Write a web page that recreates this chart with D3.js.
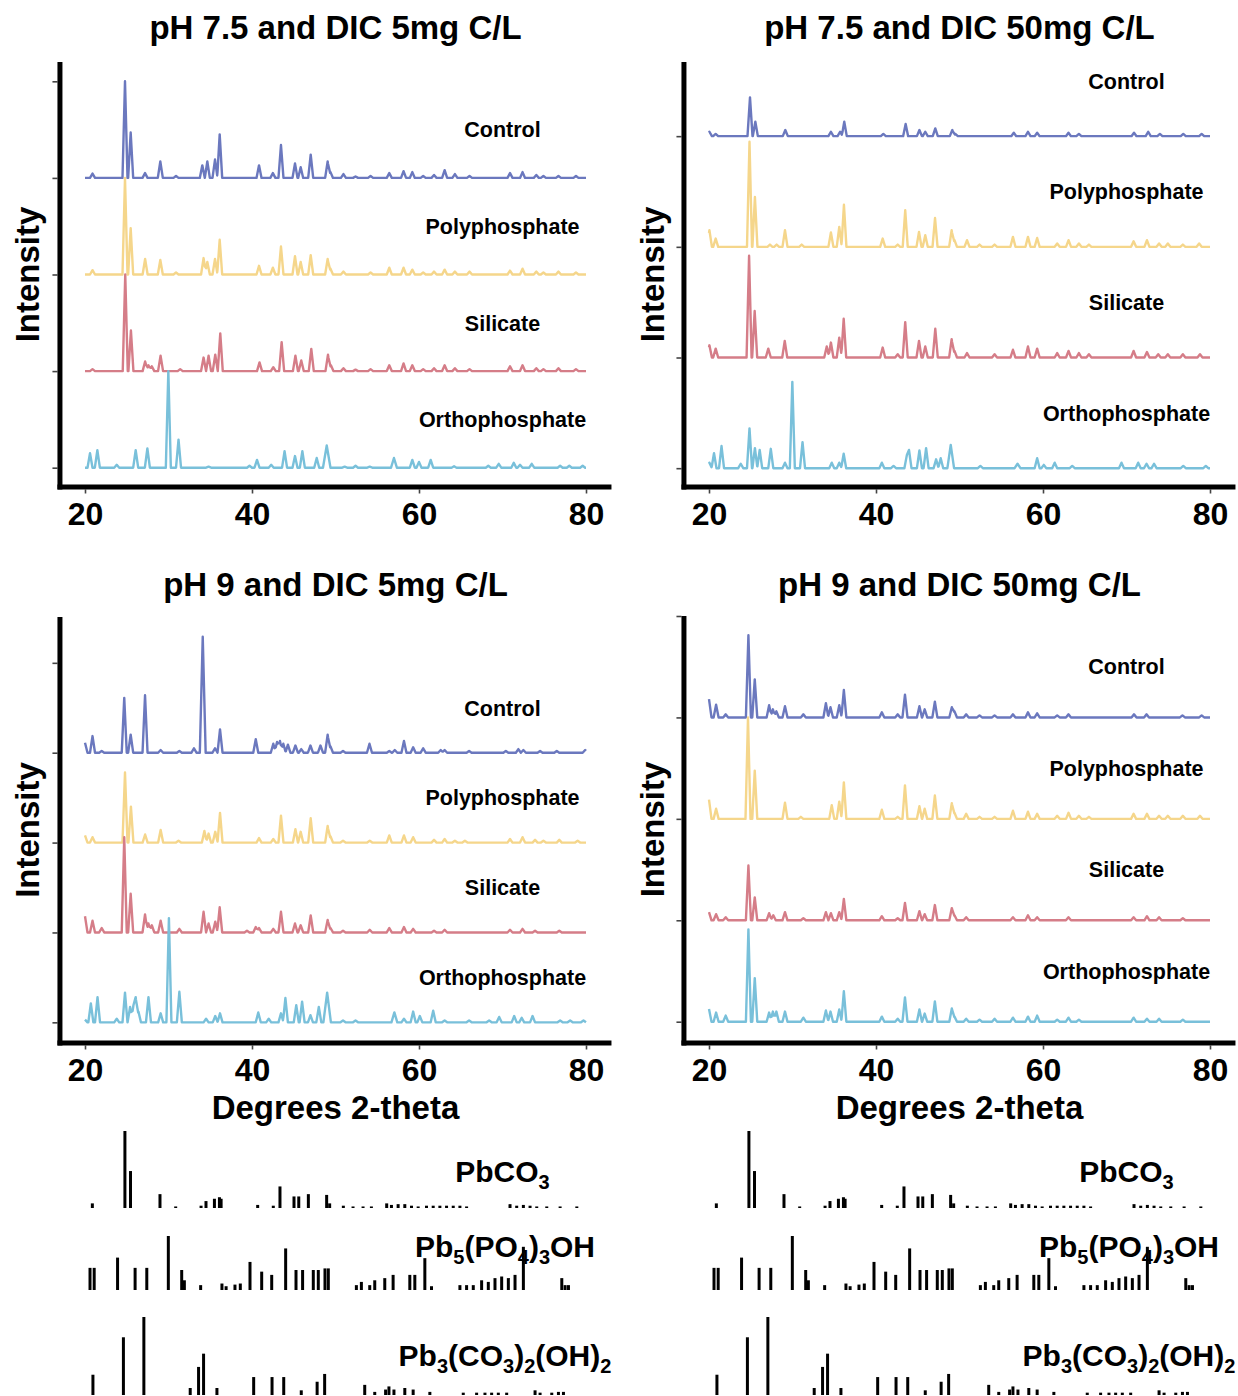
<!DOCTYPE html>
<html>
<head>
<meta charset="utf-8">
<script src="https://cdn.jsdelivr.net/npm/d3@7"></script>
<style>
  body { margin: 0; background: #fff; }
  svg { display: block; }
  text { font-family: "Liberation Sans", Arial, Helvetica, sans-serif; fill: #000; }
</style>
</head>
<body>
<svg id="chart" width="1238" height="1396"></svg>
<script>
// ---------------- data ----------------
const xTicks = [20, 40, 60, 80];
const sampleNames = ["Control", "Polyphosphate", "Silicate", "Orthophosphate"];
const sampleColors = ["#6b78be", "#f5d68b", "#d57d88", "#79c0da"];
const panelTitles = [
  "pH 7.5 and DIC 5mg C/L",
  "pH 7.5 and DIC 50mg C/L",
  "pH 9 and DIC 5mg C/L",
  "pH 9 and DIC 50mg C/L"
];
const xAxisTitle = "Degrees 2-theta";
const yAxisTitle = "Intensity";

// Diffraction peaks per sample: [2-theta, relative intensity, optional half-width in degrees]
const control75dic5 = [[20.9,.045],[24.79,1.0],[25.47,.47],[27.19,.05],[29.02,.17],[30.9,.02],[34.05,.13],[34.65,.17],[35.57,.19],[36.13,.45],[40.84,.13],[42.5,.05],[43.47,.34],[45.15,.15],[45.83,.11],[47.03,.24],[49.06,.17],[49.4,.06],[50.95,.04],[52.4,.015],[54.2,.02],[56.44,.05],[58.15,.07],[59.2,.06],[60.5,.02],[61.8,.03],[63.07,.08],[64.3,.04],[66.05,.02],[70.9,.05],[72.4,.06],[74.05,.03],[74.9,.02],[76.7,.02],[78.8,.02]];
const poly75dic5 = [[20.9,.045],[24.79,1.0],[25.47,.48],[27.2,.16],[29.02,.15],[30.9,.02],[34.2,.17],[34.65,.13],[35.57,.16],[36.13,.36],[40.84,.09],[42.5,.07],[43.47,.29],[45.15,.19],[45.83,.13],[47.03,.20],[49.06,.16],[49.4,.06],[50.95,.03],[54.2,.02],[56.44,.07],[58.15,.07],[59.2,.05],[60.5,.02],[61.8,.03],[63.07,.05],[64.3,.03],[66.05,.03],[70.9,.04],[72.4,.06],[74.05,.03],[74.9,.02],[76.7,.03],[78.8,.02]];
const silicate75dic5 = [[20.9,.02],[24.82,1.0],[25.5,.42],[27.2,.10],[27.6,.06],[28.0,.05],[29.05,.16],[31.4,.02],[34.2,.14],[34.8,.16],[35.6,.17],[36.2,.39],[40.9,.09],[42.55,.04],[43.55,.30],[45.2,.16],[45.9,.11],[47.1,.23],[49.1,.17],[49.45,.06],[50.95,.03],[52.4,.015],[54.2,.02],[56.44,.06],[58.15,.08],[59.2,.06],[60.5,.02],[61.8,.03],[63.07,.06],[64.3,.03],[66.05,.02],[70.9,.05],[72.4,.06],[74.05,.03],[74.9,.02],[76.7,.03],[78.8,.02]];
const ortho75dic5 = [[20.6,.15],[21.48,.18],[23.8,.03],[26.07,.18],[27.47,.20],[29.98,1.0],[31.2,.29],[34.8,.01],[39.7,.02],[40.6,.08],[42.3,.03],[43.9,.17],[45.15,.12],[46.03,.17],[47.75,.10],[48.95,.23,.45],[51.1,.01],[52.4,.02],[54.1,.01],[57.0,.10,.35],[59.2,.08],[60.0,.06],[61.4,.08],[64.2,.015],[68.3,.02],[69.55,.04],[71.35,.05],[72.1,.03],[73.5,.04],[76.9,.02],[78.0,.02],[79.6,.02]];

const control75dic50 = [[20.05,.04],[20.8,.02],[24.91,.35],[25.55,.13],[29.14,.055],[34.6,.04],[35.7,.04],[36.2,.13],[40.88,.02],[43.55,.11],[45.2,.055],[45.9,.04],[47.1,.07],[49.14,.055],[49.5,.02],[56.5,.03],[58.2,.04],[59.3,.03],[63.05,.03],[64.3,.02],[70.9,.03],[72.6,.04],[74.0,.02],[76.8,.02],[79.0,.02]];
const poly75dic50 = [[20.05,.15],[20.8,.075],[24.85,.95],[25.5,.45],[27.3,.02],[28.1,.02],[29.1,.15],[31.1,.02],[34.6,.13],[35.6,.18],[36.16,.38],[40.8,.075],[42.6,.02],[43.5,.33],[45.15,.135],[45.9,.105],[47.07,.26],[49.06,.15],[49.4,.06],[50.9,.06],[52.4,.02],[54.2,.02],[56.4,.09],[58.2,.09],[59.3,.08],[61.7,.03],[63.06,.06],[64.3,.03],[65.5,.02],[70.85,.05],[72.45,.06],[73.9,.03],[74.95,.03],[76.75,.02],[78.7,.03]];
const silicate75dic50 = [[20.05,.11],[20.8,.08],[24.8,.92],[25.47,.42],[27.1,.08],[29.07,.15],[34.1,.10],[34.6,.135],[35.6,.18],[36.13,.35],[40.8,.09],[42.6,.03],[43.5,.32],[45.15,.15],[45.9,.10],[47.1,.26],[49.06,.165],[49.4,.06],[50.9,.04],[54.2,.03],[56.4,.07],[58.2,.10],[59.3,.08],[61.7,.04],[63.06,.06],[64.3,.04],[65.5,.03],[70.85,.06],[72.45,.05],[73.8,.03],[74.95,.03],[76.75,.03],[78.8,.03]];
const ortho75dic50 = [[20.05,.05],[20.6,.135],[21.5,.2],[23.8,.04],[24.85,.36],[25.5,.18],[26.07,.165],[27.4,.175],[29.1,.05],[29.98,.78],[31.2,.235],[34.7,.05],[35.6,.05],[36.13,.13],[40.7,.05],[42.1,.02],[43.7,.12],[43.95,.165],[45.2,.16],[46.0,.18],[47.2,.08],[47.75,.09],[48.95,.21,.4],[52.5,.02],[56.95,.04,.35],[59.3,.09],[60.1,.03],[61.4,.05],[63.5,.02],[69.4,.05],[71.4,.05],[72.4,.04],[73.3,.04],[76.8,.02],[79.5,.02]];

const control9dic5 = [[20.0,.11],[20.9,.185],[22.0,.02],[24.7,.61],[25.47,.2],[27.19,.64],[29.06,.03],[31.3,.02],[33.05,.05],[34.1,1.29,.35],[35.57,.05],[36.17,.26],[40.45,.15],[42.55,.1],[43.0,.12],[43.35,.13],[43.75,.1],[44.3,.09],[45.2,.08],[45.9,.04],[47.0,.08],[48.2,.08],[49.06,.2],[49.4,.07],[50.9,.02],[54.07,.1],[56.44,.02],[57.1,.03],[58.2,.13],[59.3,.06],[60.5,.05],[62.6,.03],[63.07,.03],[66.0,.02],[70.4,.02],[71.9,.04],[72.5,.03],[74.5,.02],[76.5,.02],[79.9,.03]];
const poly9dic5 = [[20.0,.08],[20.9,.06],[24.79,.78],[25.5,.4],[27.2,.09],[29.06,.14],[31.2,.02],[34.3,.13],[34.8,.1],[35.6,.12],[36.17,.33],[40.84,.05],[42.55,.04],[43.47,.3],[45.2,.15],[45.83,.12],[47.03,.27],[49.06,.185],[49.4,.07],[50.9,.02],[54.1,.02],[56.44,.08],[58.2,.08],[59.3,.06],[61.8,.03],[63.07,.04],[64.3,.02],[65.5,.02],[70.9,.04],[72.4,.06],[73.9,.03],[74.9,.02],[76.8,.03],[79.0,.02]];
const silicate9dic5 = [[20.0,.18],[20.9,.13],[22.0,.05],[24.7,1.06],[25.47,.43],[27.19,.2],[27.6,.1],[28.0,.08],[29.06,.13],[31.3,.04],[34.2,.23],[34.8,.1],[35.6,.12],[36.13,.28],[39.4,.02],[40.45,.06],[40.84,.05],[42.55,.04],[43.47,.23],[45.15,.1],[45.83,.08],[47.03,.19],[49.06,.14],[49.4,.05],[50.9,.02],[54.1,.03],[56.44,.05],[58.2,.06],[59.3,.04],[61.8,.02],[63.07,.03],[70.9,.03],[72.4,.04],[73.9,.02],[76.8,.02]];
const ortho9dic5 = [[20.0,.03],[20.7,.21],[21.5,.28],[23.8,.04],[24.79,.33],[25.4,.17],[25.8,.19],[26.07,.28],[26.4,.12],[27.6,.28],[29.06,.1],[30.05,1.16],[31.3,.34],[34.5,.04],[35.6,.07],[36.17,.1],[40.75,.11],[42.0,.04],[43.47,.1],[44.0,.27],[45.3,.19],[46.0,.23],[47.0,.08],[48.0,.17],[49.0,.33,.45],[50.9,.02],[52.4,.02],[57.05,.11,.35],[58.2,.04],[59.3,.12],[60.1,.07],[61.7,.13],[63.07,.02],[66.0,.02],[68.4,.02],[69.6,.06],[71.4,.07],[72.3,.05],[73.6,.07],[76.9,.02],[78.1,.02],[79.7,.02]];

const control9dic50 = [[20.0,.18],[20.85,.125],[22.0,.03],[24.72,.81],[25.48,.375],[27.2,.12],[27.65,.08],[28.07,.06],[29.1,.11],[31.3,.03],[34.0,.14],[34.55,.1],[35.6,.12],[36.15,.27],[40.7,.05],[42.6,.03],[43.47,.225],[45.2,.11],[45.83,.08],[47.05,.155],[49.08,.1],[49.4,.06],[50.8,.03],[52.4,.02],[54.2,.02],[56.4,.03],[58.2,.05],[59.3,.04],[61.7,.02],[63.05,.03],[70.9,.03],[72.4,.03],[76.7,.02],[79.0,.02]];
const poly9dic50 = [[20.0,.19],[20.85,.1],[24.67,1.0],[25.48,.475],[29.1,.16],[31.0,.02],[34.7,.135],[35.6,.17],[36.15,.36],[40.7,.09],[42.6,.02],[43.47,.33],[45.2,.125],[45.83,.1],[47.05,.23],[49.08,.155],[49.4,.06],[50.8,.05],[52.4,.02],[54.2,.02],[56.4,.08],[58.2,.07],[59.3,.05],[61.7,.03],[63.06,.06],[64.3,.03],[65.5,.02],[70.85,.05],[72.45,.05],[73.9,.03],[74.95,.03],[76.75,.03],[78.8,.03]];
const silicate9dic50 = [[20.0,.08],[20.85,.06],[22.0,.03],[24.72,.54],[25.48,.225],[27.2,.07],[27.7,.05],[29.1,.08],[31.3,.02],[34.0,.08],[34.6,.07],[35.6,.08],[36.15,.21],[40.7,.04],[42.6,.02],[43.47,.17],[45.2,.09],[45.83,.06],[47.05,.15],[49.08,.12],[49.4,.05],[50.8,.03],[56.4,.03],[58.2,.05],[59.3,.03],[63.05,.03],[70.85,.03],[72.45,.04],[73.9,.03],[76.75,.02]];
const ortho9dic50 = [[20.0,.125],[20.85,.09],[22.0,.06],[24.72,.91],[25.48,.43],[27.2,.09],[27.65,.1],[28.07,.1],[29.1,.1],[31.3,.04],[34.0,.11],[34.55,.1],[35.6,.12],[36.15,.3],[40.7,.05],[42.6,.03],[43.47,.24],[45.2,.12],[45.83,.08],[47.05,.2],[49.08,.13],[49.4,.05],[50.8,.03],[52.4,.02],[54.2,.03],[56.4,.04],[58.2,.05],[59.3,.06],[61.7,.02],[63.05,.04],[64.3,.02],[70.85,.04],[72.45,.03],[73.9,.03],[76.75,.02]];

// Reference stick patterns: [2-theta, relative intensity (%)]
const cerussiteSticks = [[20.88,6],[24.78,100],[25.45,48],[28.98,18],[30.86,2],[33.9,3],[34.49,9],[35.5,12],[36.1,14],[36.3,12],[40.68,4],[42.55,3],[43.35,28],[45.03,15],[45.6,15],[46.75,18],[48.94,17],[49.3,6],[50.94,3],[52.1,2],[53.3,2],[54.3,2],[56.13,6],[56.7,4],[57.5,5],[58.3,5],[59.1,3],[59.9,2],[60.9,3],[61.7,3],[62.5,3],[63.3,3],[64.1,3],[64.9,3],[65.7,2],[70.9,5],[71.7,3],[72.5,4],[73.3,3],[74.1,2],[75.3,2],[76.9,2],[78.9,2]];
const hydroxypyromorphiteSticks = [[20.6,41],[21.1,41],[23.9,60],[26.0,41],[27.4,41],[29.98,100],[31.58,37],[31.9,18],[33.85,9],[36.4,12],[36.9,7],[37.96,10],[38.6,12],[39.76,52],[41.16,34],[42.36,28],[44.03,77],[45.27,37],[46.06,37],[47.34,37],[47.94,37],[48.74,40],[49.14,40],[52.5,9],[53.1,15],[54.1,9],[54.7,18],[55.9,22],[56.9,28],[58.9,28],[59.5,28],[60.7,59],[61.5,7],[64.9,9],[65.7,9],[66.5,9],[67.5,18],[68.3,15],[69.1,22],[69.9,25],[70.7,22],[71.5,28],[72.5,80],[77.1,22],[77.5,9],[77.9,9]];
const hydrocerussiteSticks = [[20.95,26],[24.6,74],[27.05,100],[32.6,9],[33.6,36],[34.2,53],[35.8,9],[40.2,23],[42.4,23],[43.8,23],[45.9,6],[47.8,17],[48.7,27],[53.5,13],[54.7,4],[56.0,7],[56.4,11],[57.0,7],[58.3,9],[59.3,7],[61.3,4],[65.3,3],[66.9,3],[67.9,3],[68.7,3],[69.5,3],[70.5,3],[73.9,6],[74.5,3],[75.9,3],[76.7,4],[77.3,4]];

// Phase labels, split into [text, isSubscript] runs
const cerussiteLabel = [["PbCO", false], ["3", true]];
const hydroxypyromorphiteLabel = [["Pb", false], ["5", true], ["(PO", false], ["4", true], [")", false], ["3", true], ["OH", false]];
const hydrocerussiteLabel = [["Pb", false], ["3", true], ["(CO", false], ["3", true], [")", false], ["2", true], ["(OH)", false], ["2", true]];

// ---------------- layout ----------------
const HALF_WIDTH = 0.3;    // default peak half-width, degrees 2-theta
const AXIS_START = 17.0;   // where the thick axis frame begins (2-theta)
const AXIS_END = 83.05;

const panels = [
  { title: panelTitles[0], traces: [control75dic5, poly75dic5, silicate75dic5, ortho75dic5],
    left: 85, right: 586, top: 62, bottom: 487, yDomain: [-0.2, 4.2], yTicks: [0, 1, 2, 3, 4],
    titleY: 39, yTitleX: 39, showXTitle: false },
  { title: panelTitles[1], traces: [control75dic50, poly75dic50, silicate75dic50, ortho75dic50],
    left: 709, right: 1210, top: 62, bottom: 487, yDomain: [-0.17, 3.67], yTicks: [0, 1, 2, 3],
    titleY: 39, yTitleX: 664, showXTitle: false },
  { title: panelTitles[2], traces: [control9dic5, poly9dic5, silicate9dic5, ortho9dic5],
    left: 85, right: 586, top: 617, bottom: 1043, yDomain: [-0.23, 4.51], yTicks: [0, 1, 2, 3, 4],
    titleY: 596, yTitleX: 39, showXTitle: true },
  { title: panelTitles[3], traces: [control9dic50, poly9dic50, silicate9dic50, ortho9dic50],
    left: 709, right: 1210, top: 616, bottom: 1043, yDomain: [-0.21, 4.0], yTicks: [0, 1, 2, 3, 4],
    titleY: 596, yTitleX: 664, showXTitle: true }
];

const stickRows = [
  { sticks: cerussiteSticks, label: cerussiteLabel, base: 1208, full: 77, labelY: 1182, labelAt: 70.0 },
  { sticks: hydroxypyromorphiteSticks, label: hydroxypyromorphiteLabel, base: 1290, full: 54, labelY: 1257, labelAt: 70.3 },
  { sticks: hydrocerussiteSticks, label: hydrocerussiteLabel, base: 1395, full: 78, labelY: 1366, labelAt: 70.3 }
];

// ---------------- drawing ----------------
const svg = d3.select("#chart");

// Build a polyline of the diffraction trace: the upper envelope of triangular peaks
function profile(peaks) {
  const xs = new Set([20, 80]);
  peaks.forEach(([c, , w = HALF_WIDTH]) => { xs.add(c - w); xs.add(c); xs.add(c + w); });
  return Array.from(xs)
    .filter(v => v >= 20 && v <= 80)
    .sort((a, b) => a - b)
    .map(v => [v, d3.max(peaks, ([c, h, w = HALF_WIDTH]) => Math.max(0, h * (1 - Math.abs(v - c) / w))) || 0]);
}

function addRuns(textSel, runs, mainSize, subSize, subShift) {
  let shifted = false;
  runs.forEach(([t, sub]) => {
    const ts = textSel.append("tspan").text(t).attr("font-size", sub ? subSize : mainSize);
    if (sub && !shifted) { ts.attr("dy", subShift); shifted = true; }
    else if (!sub && shifted) { ts.attr("dy", -subShift); shifted = false; }
  });
}

panels.forEach(p => {
  const g = svg.append("g");
  const x = d3.scaleLinear().domain([20, 80]).range([p.left, p.right]);
  const y = d3.scaleLinear().domain(p.yDomain).range([p.bottom, p.top]);
  const frameX = x(AXIS_START);

  // title
  g.append("text")
    .attr("x", (p.left + p.right) / 2).attr("y", p.titleY)
    .attr("text-anchor", "middle").attr("font-size", 33).attr("font-weight", "bold")
    .text(p.title);

  // y title
  g.append("text")
    .attr("transform", `translate(${p.yTitleX},${(p.top + p.bottom) / 2}) rotate(-90)`)
    .attr("text-anchor", "middle").attr("font-size", 33).attr("font-weight", "bold")
    .text(yAxisTitle);

  // traces, stacked with a unit offset each (Control on top)
  const line = d3.line().x(d => x(d[0])).y(d => y(d[1]));
  p.traces.forEach((peaks, i) => {
    const offset = p.traces.length - 1 - i;
    const pts = profile(peaks).map(([t, v]) => [t, v + offset]);
    g.append("path")
      .attr("d", line(pts))
      .attr("fill", "none")
      .attr("stroke", sampleColors[i])
      .attr("stroke-width", 2.4)
      .attr("stroke-linejoin", "round");
    g.append("text")
      .attr("x", x(70)).attr("y", y(offset + 0.5)).attr("dy", "0.36em")
      .attr("text-anchor", "middle").attr("font-size", 21.5).attr("font-weight", "bold")
      .text(sampleNames[i]);
  });

  // y ticks (no labels)
  const yAxis = g.append("g")
    .attr("transform", `translate(${frameX - 2.5},0)`)
    .call(d3.axisLeft(y).tickValues(p.yTicks).tickSize(5).tickFormat(""));
  yAxis.select(".domain").remove();
  yAxis.selectAll(".tick line").attr("stroke", "#444").attr("stroke-width", 1.6);

  // x axis ticks and labels
  const xAxis = g.append("g")
    .attr("transform", `translate(0,${p.bottom + 2.5})`)
    .call(d3.axisBottom(x).tickValues(xTicks).tickSize(4).tickPadding(9));
  xAxis.select(".domain").remove();
  xAxis.selectAll(".tick line").attr("stroke", "#444").attr("stroke-width", 1.6);
  xAxis.selectAll(".tick text")
    .attr("font-size", 32).attr("font-weight", "bold").attr("fill", "#000")
    .attr("font-family", "'Liberation Sans', Arial, sans-serif");

  // thick L-shaped frame
  g.append("line")
    .attr("x1", frameX).attr("x2", frameX)
    .attr("y1", p.top).attr("y2", p.bottom + 2.5)
    .attr("stroke", "#000").attr("stroke-width", 5);
  g.append("line")
    .attr("x1", frameX - 2.5).attr("x2", x(AXIS_END))
    .attr("y1", p.bottom).attr("y2", p.bottom)
    .attr("stroke", "#000").attr("stroke-width", 5);

  if (p.showXTitle) {
    g.append("text")
      .attr("x", (p.left + p.right) / 2).attr("y", 1119)
      .attr("text-anchor", "middle").attr("font-size", 33).attr("font-weight", "bold")
      .text(xAxisTitle);
  }
});

// Reference stick patterns under both columns
[panels[2], panels[3]].forEach(p => {
  const x = d3.scaleLinear().domain([20, 80]).range([p.left, p.right]);
  const g = svg.append("g");
  stickRows.forEach(row => {
    const h = d3.scaleLinear().domain([0, 100]).range([row.base, row.base - row.full]);
    g.append("g").selectAll("line")
      .data(row.sticks)
      .join("line")
      .attr("x1", d => x(d[0])).attr("x2", d => x(d[0]))
      .attr("y1", row.base).attr("y2", d => h(d[1]))
      .attr("stroke", "#000").attr("stroke-width", 3);
    const t = g.append("text")
      .attr("x", x(row.labelAt)).attr("y", row.labelY)
      .attr("text-anchor", "middle").attr("font-weight", "bold");
    addRuns(t, row.label, 30, 20, 7);
  });
});
</script>
</body>
</html>
